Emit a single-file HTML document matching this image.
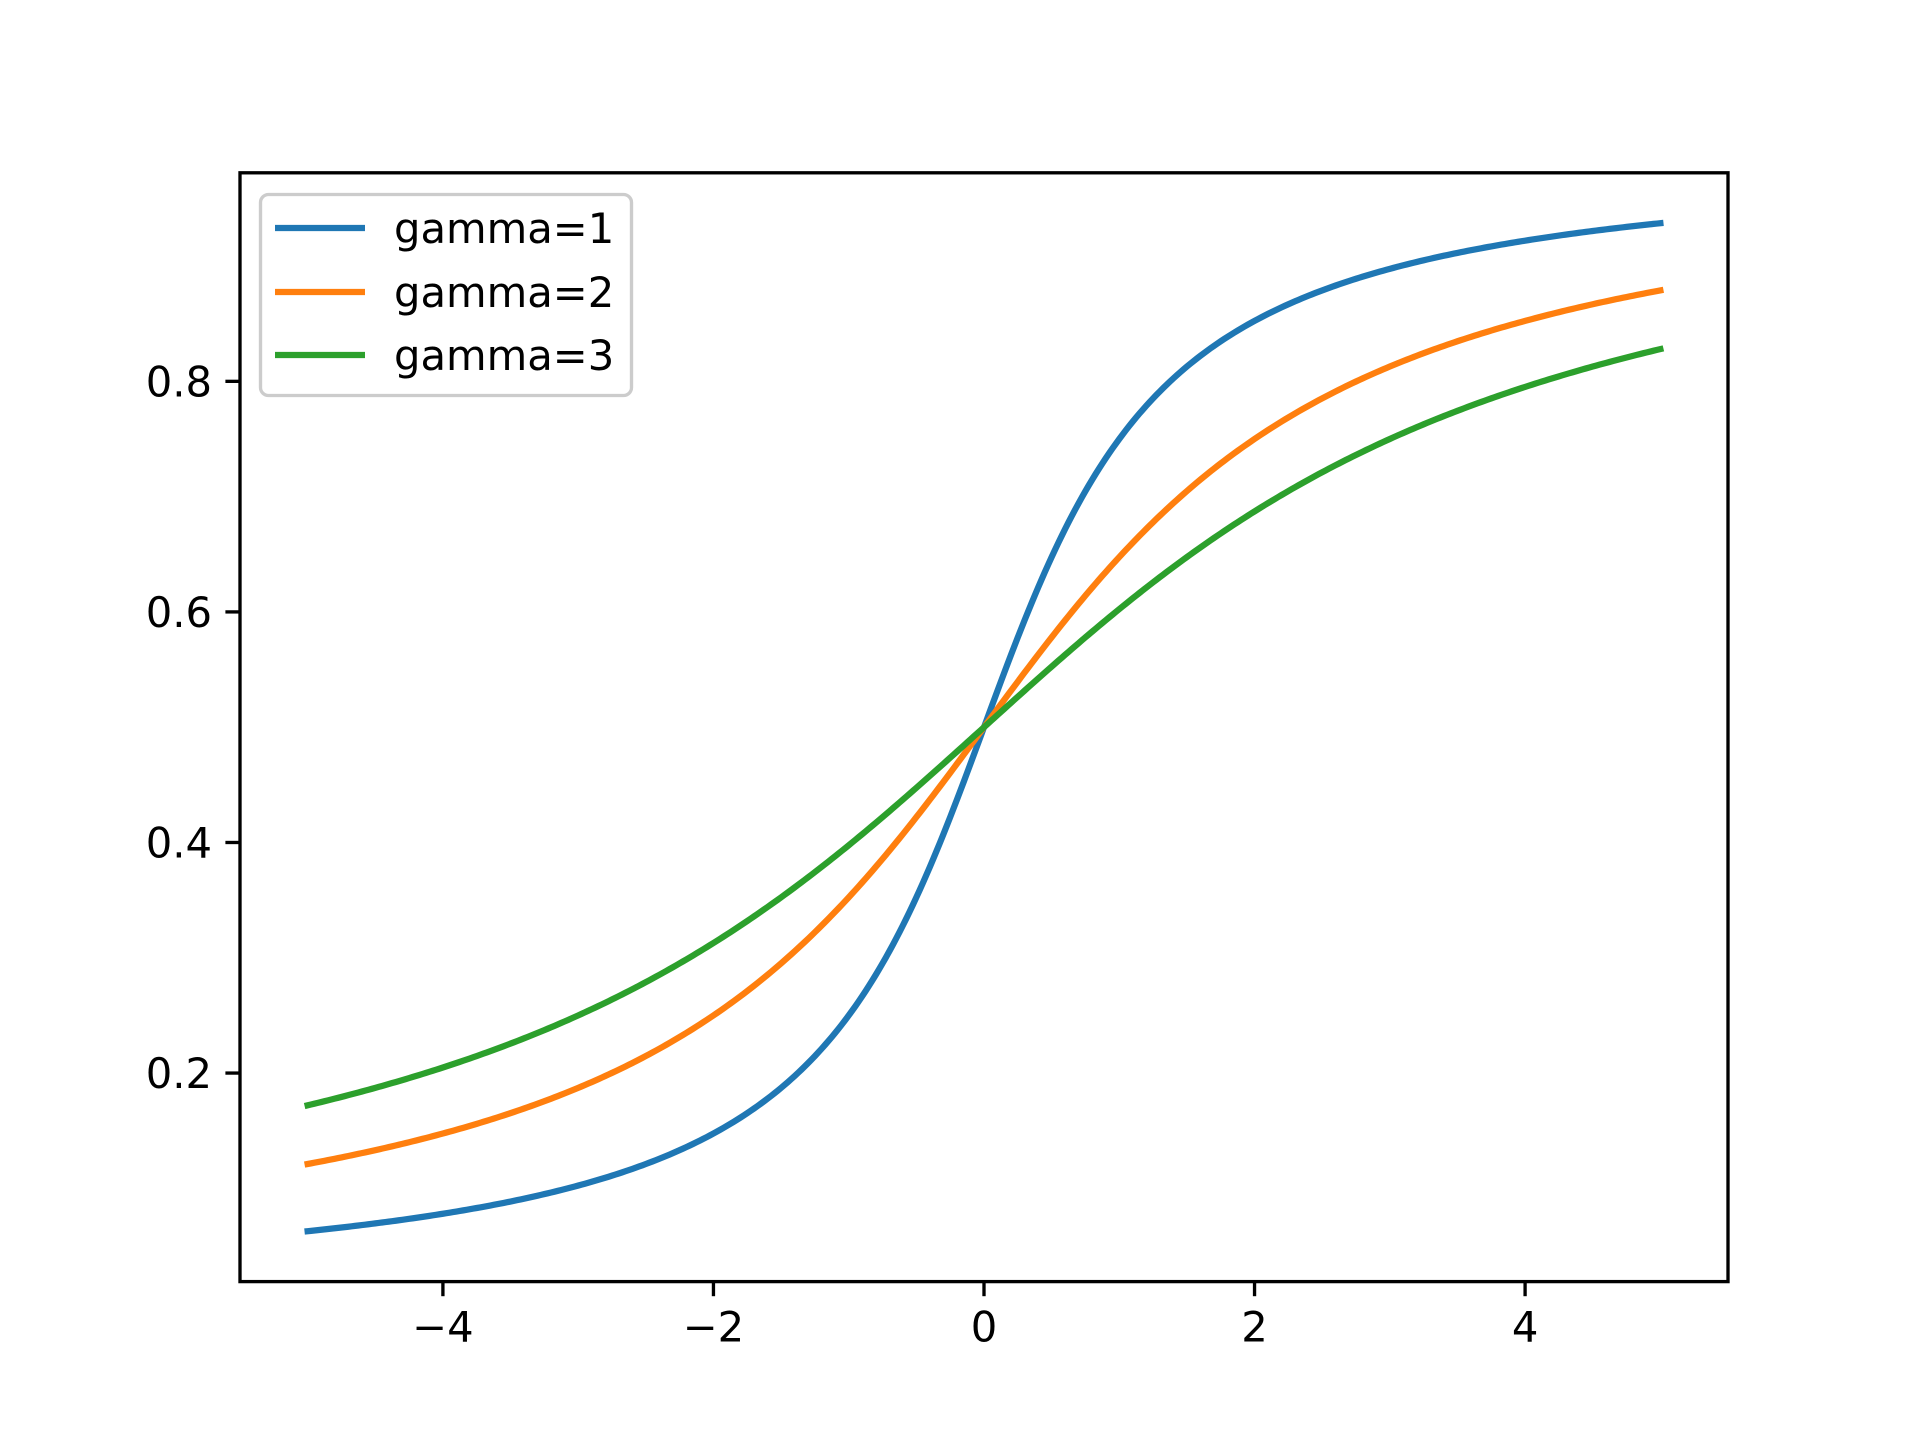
<!DOCTYPE html>
<html><head><meta charset="utf-8"><style>
html,body{margin:0;padding:0;background:#fff;}
svg{display:block;font-family:"DejaVu Sans","Liberation Sans",sans-serif;}
</style></head><body>
<svg id="s" width="1920" height="1440" viewBox="0 0 1920 1440" xmlns="http://www.w3.org/2000/svg">
<rect width="1920" height="1440" fill="#fff"/>
<g id="curves"></g>
<g id="ticks" stroke="#000" stroke-width="3.33"></g>
<g id="labels" font-size="41.7" fill="#000"></g>
<rect x="240" y="172.8" width="1488" height="1108.8" fill="none" stroke="#000" stroke-width="3.33"/>
<rect x="260.5" y="194.5" width="371" height="201" rx="8" fill="#fff" fill-opacity="0.8" stroke="#ccc" stroke-width="3.33"/>
<line x1="275" y1="228" x2="365" y2="228" stroke="#1f77b4" stroke-width="6.25"/>
<line x1="275" y1="292" x2="365" y2="292" stroke="#ff7f0e" stroke-width="6.25"/>
<line x1="275" y1="355" x2="365" y2="355" stroke="#2ca02c" stroke-width="6.25"/>
<text x="394" y="243" font-size="41.7">gamma=1</text>
<text x="394" y="307" font-size="41.7">gamma=2</text>
<text x="394" y="370" font-size="41.7">gamma=3</text>
</svg>
<script>
(function(){
var L=240,R=1728,T=172.8,B=1281.6;
var x0=-5.5,x1=5.5,ymin=0.5+Math.atan(-5)/Math.PI,ymax=0.5+Math.atan(5)/Math.PI;
var m=(ymax-ymin)*0.05,y0=ymin-m,y1=ymax+m;
function px(x){return L+(x-x0)/(x1-x0)*(R-L);}
function py(y){return B-(y-y0)/(y1-y0)*(B-T);}
var ns="http://www.w3.org/2000/svg";
var cols=["#1f77b4","#ff7f0e","#2ca02c"];
var g=document.getElementById("curves");
[1,2,3].forEach(function(gm,i){
 var d="";
 for(var k=0;k<=400;k++){var x=-5+10*k/400;var y=0.5+Math.atan(x/gm)/Math.PI;
  d+=(k?"L":"M")+px(x).toFixed(2)+","+py(y).toFixed(2);}
 var p=document.createElementNS(ns,"path");
 p.setAttribute("d",d);p.setAttribute("fill","none");p.setAttribute("stroke",cols[i]);
 p.setAttribute("stroke-width","6.25");p.setAttribute("stroke-linecap","square");
 g.appendChild(p);
});
var t=document.getElementById("ticks"),lb=document.getElementById("labels");
[-4,-2,0,2,4].forEach(function(v){
 var x=px(v);var l=document.createElementNS(ns,"line");
 l.setAttribute("x1",x);l.setAttribute("x2",x);l.setAttribute("y1",B);l.setAttribute("y2",B+14.6);t.appendChild(l);
 var tx=document.createElementNS(ns,"text");tx.setAttribute("x",x);tx.setAttribute("y",B+60);
 tx.setAttribute("text-anchor","middle");tx.textContent=(v<0?"\u2212"+(-v):""+v);lb.appendChild(tx);
});
[0.2,0.4,0.6,0.8].forEach(function(v){
 var y=py(v);var l=document.createElementNS(ns,"line");
 l.setAttribute("x1",L);l.setAttribute("x2",L-14.6);l.setAttribute("y1",y);l.setAttribute("y2",y);t.appendChild(l);
 var tx=document.createElementNS(ns,"text");tx.setAttribute("x",L-28);tx.setAttribute("y",y+15);
 tx.setAttribute("text-anchor","end");tx.textContent=v.toFixed(1);lb.appendChild(tx);
});
})();
</script>
</body></html>
